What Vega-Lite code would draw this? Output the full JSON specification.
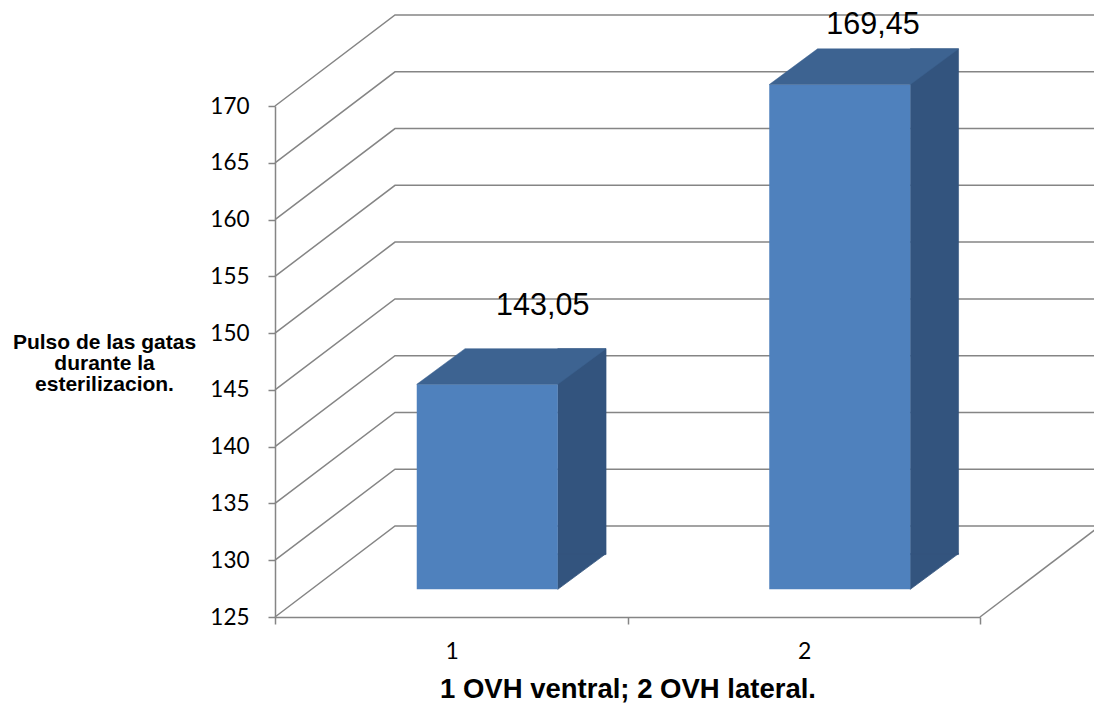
{
  "$schema": "https://vega.github.io/schema/vega-lite/v6.json",
  "autosize": "none",
  "width": 705,
  "height": 511,
  "padding": {"left": 275, "top": 106, "right": 114, "bottom": 91},
  "background": "white",
  "config": {
    "view": {"stroke": null},
    "locale": {"number": {"decimal": ",", "thousands": ".", "grouping": [3], "currency": ["", ""]}}
  },
  "datasets": {
    "pulso": [
      {"grupo": "1", "pulso": 143.05},
      {"grupo": "2", "pulso": 169.45}
    ],
    "escala": [
      {"v": 125}, {"v": 130}, {"v": 135}, {"v": 140}, {"v": 145},
      {"v": 150}, {"v": 155}, {"v": 160}, {"v": 165}, {"v": 170}
    ]
  },
  "data": {"name": "pulso"},
  "layer": [
    {
      "data": {"name": "escala"},
      "mark": {"type": "point", "shape": "M0,0L120,-91L830,-91", "size": 4, "filled": false, "stroke": "#858585", "strokeWidth": 1.5, "opacity": 1},
      "encoding": {
        "x": {"datum": "1", "type": "ordinal", "bandPosition": 0},
        "y": {
          "field": "v", "type": "quantitative",
          "scale": {"domain": [125, 170], "nice": false, "zero": false},
          "axis": {
            "values": [125, 130, 135, 140, 145, 150, 155, 160, 165, 170],
            "grid": false,
            "domainColor": "#858585", "domainWidth": 1.5,
            "tickColor": "#858585", "tickWidth": 1.5, "tickSize": 7,
            "labelFont": "Lato", "labelFontSize": 22.5, "labelColor": "#000000", "labelPadding": 19,
            "title": ["Pulso de las gatas", "durante la", "esterilizacion."],
            "titleAngle": 0, "titleAlign": "center", "titleBaseline": "alphabetic",
            "titleX": -171, "titleY": 242,
            "titleFont": "Liberation Sans", "titleFontWeight": "bold", "titleFontSize": 21,
            "titleLineHeight": 21, "titleColor": "#000000"
          }
        }
      }
    },
    {
      "data": {"name": "escala"},
      "transform": [{"filter": "datum.v == 125"}],
      "mark": {"type": "point", "shape": "M0,0L120,-91", "size": 4, "filled": false, "stroke": "#858585", "strokeWidth": 1.5, "opacity": 1},
      "encoding": {
        "x": {"datum": "2", "type": "ordinal", "bandPosition": 1},
        "y": {"field": "v", "type": "quantitative"}
      }
    },
    {
      "mark": {"type": "bar", "width": 48.3, "xOffset": 130.65, "yOffset": -63.4, "y2Offset": -62.4, "color": "#33547E", "stroke": "#33547E", "strokeWidth": 0.6},
      "encoding": {
        "x": {
          "field": "grupo", "type": "ordinal",
          "scale": {"paddingInner": 0, "paddingOuter": 0},
          "axis": {
            "labelAngle": 0, "tickBand": "extent", "labelOffset": 7,
            "domainColor": "#858585", "domainWidth": 1.5,
            "tickColor": "#858585", "tickWidth": 1.5, "tickSize": 7,
            "labelFont": "Lato", "labelFontSize": 23, "labelColor": "#000000",
            "labelPadding": 27, "labelBaseline": "middle",
            "title": "1 OVH ventral; 2 OVH lateral.",
            "titleFont": "Liberation Sans", "titleFontWeight": "bold", "titleFontSize": 27.5,
            "titleBaseline": "alphabetic", "titleY": 80, "titleColor": "#000000"
          }
        },
        "y": {"field": "pulso", "type": "quantitative"},
        "y2": {"datum": 125}
      }
    },
    {
      "mark": {"type": "point", "shape": "M106.5,-27.7L154.8,-63.4L106.5,-63.4Z", "size": 4, "filled": true, "fill": "#33547E", "stroke": "#33547E", "strokeWidth": 0.8, "opacity": 1},
      "encoding": {
        "x": {"field": "grupo", "type": "ordinal"},
        "y": {"datum": 125, "type": "quantitative"}
      }
    },
    {
      "mark": {"type": "bar", "width": 141, "xOffset": 36, "yOffset": -27.7, "y2Offset": -27.7, "color": "#4F81BD"},
      "encoding": {
        "x": {"field": "grupo", "type": "ordinal"},
        "y": {"field": "pulso", "type": "quantitative"},
        "y2": {"datum": 125}
      }
    },
    {
      "mark": {"type": "point", "shape": "M-34.5,-27.7L106.5,-27.7L154.8,-63.4L13.8,-63.4Z", "size": 4, "filled": true, "fill": "#3D6391", "stroke": "#3D6391", "strokeWidth": 0.5, "opacity": 1},
      "encoding": {
        "x": {"field": "grupo", "type": "ordinal"},
        "y": {"field": "pulso", "type": "quantitative"}
      }
    },
    {
      "transform": [{"filter": "datum.grupo == '1'"}],
      "mark": {"type": "text", "dx": 91.5, "dy": -97, "align": "center", "baseline": "alphabetic", "font": "Liberation Sans", "fontSize": 30.5, "color": "#000000"},
      "encoding": {
        "x": {"field": "grupo", "type": "ordinal"},
        "y": {"field": "pulso", "type": "quantitative"},
        "text": {"field": "pulso", "type": "quantitative", "format": ".2f"}
      }
    },
    {
      "transform": [{"filter": "datum.grupo == '2'"}],
      "mark": {"type": "text", "dx": 69.25, "dy": -78.6, "align": "center", "baseline": "alphabetic", "font": "Liberation Sans", "fontSize": 30.5, "color": "#000000"},
      "encoding": {
        "x": {"field": "grupo", "type": "ordinal"},
        "y": {"field": "pulso", "type": "quantitative"},
        "text": {"field": "pulso", "type": "quantitative", "format": ".2f"}
      }
    }
  ]
}
